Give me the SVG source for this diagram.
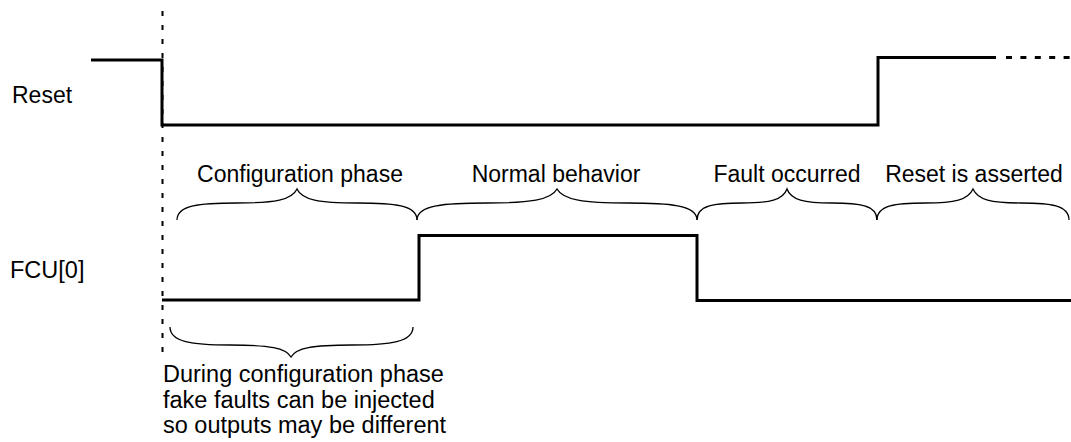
<svg xmlns="http://www.w3.org/2000/svg" width="1071" height="442" viewBox="0 0 1071 442">
<style>
text{font-family:"Liberation Sans",Arial,sans-serif;font-size:23.5px;fill:#000}
.wave{fill:none;stroke:#000;stroke-width:3;stroke-linejoin:miter;stroke-linecap:butt}
.brace{fill:none;stroke:#000;stroke-width:1.3}
.mid{text-anchor:middle;font-size:23px}
</style>
<rect width="1071" height="442" fill="#fff"/>
<g id="marker-line">
<path d="M162.5,11 V357" fill="none" stroke="#000" stroke-width="2" stroke-dasharray="5,9"/>
</g>
<g id="reset-signal">
<text x="12" y="103" style="font-size:23px">Reset</text>
<path class="wave" d="M91,60 H162 V125 H878 V57.5 H996"/>
<path class="wave" d="M1006,57.5 H1071" stroke-dasharray="6,8.4"/>
</g>
<g id="fcu-signal">
<text x="10" y="278">FCU[0]</text>
<path class="wave" d="M162,300 H419 V235.5 H697 V300.5 H1071"/>
</g>
<g id="phase-config">
<text class="mid" x="300" y="182">Configuration phase</text>
<path class="brace" d="M177,220 C177,205 200,203 237,203 C275,203 292,200 297,189 C302,200 319,203 357,203 C394,203 417,205 417,220"/>
</g>
<g id="phase-normal">
<text class="mid" x="556" y="182">Normal behavior</text>
<path class="brace" d="M417,220 C417,205 445,203 487,203 C530,203 551,200 557,189 C563,200 584,203 627,203 C669,203 697,205 697,220"/>
</g>
<g id="phase-fault">
<text class="mid" x="787" y="182">Fault occurred</text>
<path class="brace" d="M697,220 C697,205 715,203 742,203 C770,203 783,200 787,189 C791,200 804,203 832,203 C859,203 877,205 877,220"/>
</g>
<g id="phase-reset">
<text class="mid" x="974" y="182">Reset is asserted</text>
<path class="brace" d="M877,220 C877,205 896,203 925,203 C955,203 968,200 973,189 C978,200 991,203 1021,203 C1050,203 1069,205 1069,220"/>
</g>
<g id="config-note">
<path class="brace" d="M170,327 C170,342 192,345 230,345 C270,345 286,348 291,357 C296,348 312,345 352,345 C390,345 413,342 413,327"/>
<text x="163" y="382">During configuration phase</text>
<text x="163" y="408">fake faults can be injected</text>
<text x="163" y="433">so outputs may be different</text>
</g>
</svg>
